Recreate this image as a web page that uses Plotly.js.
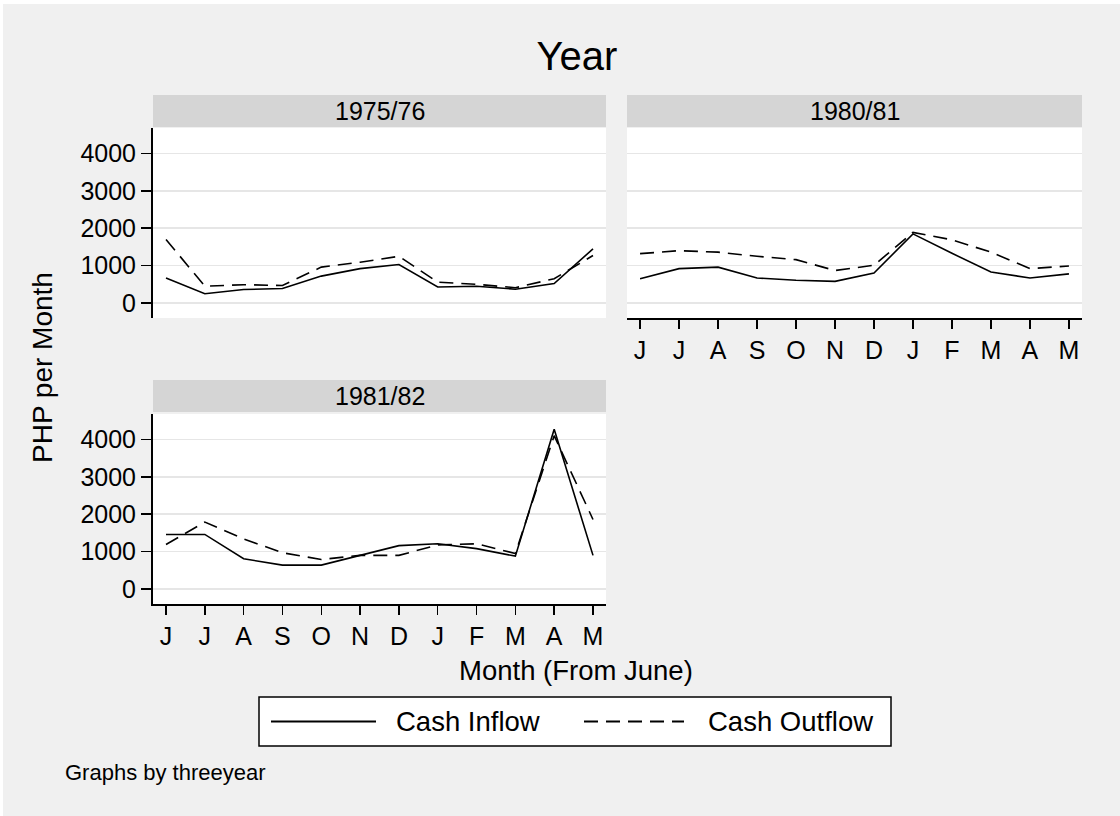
<!DOCTYPE html>
<html>
<head>
<meta charset="utf-8">
<script src="https://cdn.plot.ly/plotly-3.0.1.min.js"></script>
<style>
html, body { margin: 0; padding: 0; background: #f0f0f0; }
#chart { width: 1120px; height: 816px; }
</style>
</head>
<body>
<div id="chart"></div>
<script>
// ---- data ----
const monthIndex = [0, 1, 2, 3, 4, 5, 6, 7, 8, 9, 10, 11];
const monthLabels = ['J', 'J', 'A', 'S', 'O', 'N', 'D', 'J', 'F', 'M', 'A', 'M'];
const yTicks = [0, 1000, 2000, 3000, 4000];
const panelNames = ['1975/76', '1980/81', '1981/82'];
const seriesNames = ['Cash Inflow', 'Cash Outflow'];

const inflow7576  = [670, 250, 360, 390, 720, 920, 1030, 430, 450, 370, 520, 1450];
const outflow7576 = [1700, 450, 490, 470, 960, 1090, 1250, 560, 500, 410, 650, 1270];
const inflow8081  = [650, 920, 960, 670, 610, 580, 800, 1850, 1330, 830, 670, 780];
const outflow8081 = [1320, 1400, 1360, 1250, 1160, 870, 1010, 1890, 1690, 1360, 920, 990];
const inflow8182  = [1460, 1460, 810, 640, 640, 900, 1160, 1210, 1080, 880, 4270, 900];
const outflow8182 = [1190, 1790, 1340, 970, 790, 900, 900, 1180, 1210, 950, 4100, 1860];

// ---- helpers ----
const W = 1120, H = 816;
const px = v => v / W;
const py = v => 1 - v / H;
const FONT = 'Liberation Sans, Arial, Helvetica, sans-serif';
const DASH = '14px,8px';

function line(x, y, name, dashed, xa, ya) {
  return {
    type: 'scatter', mode: 'lines', x: x, y: y, name: name,
    xaxis: xa, yaxis: ya, showlegend: false,
    line: { color: '#000000', width: 1.6, dash: dashed ? DASH : 'solid' },
    hoverinfo: 'x+y+name'
  };
}

const data = [
  line(monthIndex, inflow7576, seriesNames[0], false, 'x', 'y'),
  line(monthIndex, outflow7576, seriesNames[1], true, 'x', 'y'),
  line(monthIndex, inflow8081, seriesNames[0], false, 'x2', 'y2'),
  line(monthIndex, outflow8081, seriesNames[1], true, 'x2', 'y2'),
  line(monthIndex, inflow8182, seriesNames[0], false, 'x3', 'y3'),
  line(monthIndex, outflow8182, seriesNames[1], true, 'x3', 'y3')
];

const XR = [-0.335, 11.335];
const YR = [-400, 4680];

function xAxis(domain, anchor, show) {
  return {
    domain: domain, anchor: anchor, range: XR, fixedrange: true,
    showgrid: false, zeroline: false,
    showline: show, linecolor: '#000', linewidth: 2,
    ticks: show ? 'outside' : '', ticklen: 9, tickwidth: 1.5, tickcolor: '#000',
    tickmode: 'array', tickvals: monthIndex, ticktext: monthLabels,
    showticklabels: show,
    tickfont: { family: FONT, size: 25, color: '#000' }
  };
}
function yAxis(domain, anchor, show) {
  return {
    domain: domain, anchor: anchor, range: YR, fixedrange: true,
    showgrid: true, gridcolor: '#e6e6e6', gridwidth: 1.5, zeroline: false,
    showline: show, linecolor: '#000', linewidth: 2,
    ticks: show ? 'outside' : '', ticklen: 10, tickwidth: 1.5, tickcolor: '#000',
    tickmode: 'array', tickvals: yTicks,
    showticklabels: show,
    tickfont: { family: FONT, size: 25, color: '#000' }
  };
}

const p1x = [px(153), px(606)], p2x = [px(627), px(1082)], p3x = [px(153), px(606)];
const rowTop = [py(318), py(128)], rowBot = [py(604), py(414)];

const strips = [
  { x0: 153, x1: 606, y0: 95, y1: 127, t: panelNames[0] },
  { x0: 627, x1: 1082, y0: 95, y1: 127, t: panelNames[1] },
  { x0: 153, x1: 606, y0: 380, y1: 412, t: panelNames[2] }
];

const shapes = [
  // thin white frame at top/left edges
  { type: 'rect', xref: 'paper', yref: 'paper', x0: 0, x1: 1, y0: py(4), y1: 1, fillcolor: '#ffffff', line: { width: 0 }, layer: 'below' },
  { type: 'rect', xref: 'paper', yref: 'paper', x0: 0, x1: px(3), y0: 0, y1: 1, fillcolor: '#ffffff', line: { width: 0 }, layer: 'below' },
  // legend box
  { type: 'rect', xref: 'paper', yref: 'paper', x0: px(259), x1: px(891), y0: py(746), y1: py(697), fillcolor: '#ffffff', line: { color: '#000', width: 1.5 }, layer: 'below' },
  { type: 'line', xref: 'paper', yref: 'paper', x0: px(271), x1: px(376), y0: py(721.5), y1: py(721.5), line: { color: '#000', width: 2 } },
  { type: 'line', xref: 'paper', yref: 'paper', x0: px(584), x1: px(684), y0: py(721.5), y1: py(721.5), line: { color: '#000', width: 2, dash: DASH } }
];
const annotations = [];
strips.forEach(s => {
  shapes.push({ type: 'rect', xref: 'paper', yref: 'paper', x0: px(s.x0), x1: px(s.x1), y0: py(s.y1), y1: py(s.y0), fillcolor: '#d5d5d5', line: { width: 0 }, layer: 'below' });
  annotations.push({ xref: 'paper', yref: 'paper', x: px((s.x0 + s.x1) / 2), y: py((s.y0 + s.y1) / 2), xanchor: 'center', yanchor: 'middle', text: s.t, showarrow: false, font: { family: FONT, size: 25, color: '#000' } });
});
annotations.push(
  { xref: 'paper', yref: 'paper', x: px(43), y: py(368), xanchor: 'center', yanchor: 'middle', textangle: -90, text: 'PHP per Month', showarrow: false, font: { family: FONT, size: 28, color: '#000' } },
  { xref: 'paper', yref: 'paper', x: px(576), y: py(670), xanchor: 'center', yanchor: 'middle', text: 'Month (From June)', showarrow: false, font: { family: FONT, size: 27.5, color: '#000' } },
  { xref: 'paper', yref: 'paper', x: px(394), y: py(721), xanchor: 'left', yanchor: 'middle', text: seriesNames[0], showarrow: false, font: { family: FONT, size: 27.5, color: '#000' } },
  { xref: 'paper', yref: 'paper', x: px(706), y: py(721), xanchor: 'left', yanchor: 'middle', text: seriesNames[1], showarrow: false, font: { family: FONT, size: 27.5, color: '#000' } },
  { xref: 'paper', yref: 'paper', x: px(63), y: py(772), xanchor: 'left', yanchor: 'middle', text: 'Graphs by threeyear', showarrow: false, font: { family: FONT, size: 22, color: '#000' } }
);

const layout = {
  width: W, height: H,
  margin: { l: 0, r: 0, t: 0, b: 0, pad: 0 },
  paper_bgcolor: '#f0f0f0', plot_bgcolor: '#ffffff',
  showlegend: false,
  title: { text: 'Year', x: px(577), xanchor: 'center', y: py(56), yanchor: 'middle', xref: 'paper', yref: 'paper', font: { family: FONT, size: 40, color: '#000' } },
  xaxis: xAxis(p1x, 'y', false),
  yaxis: yAxis(rowTop, 'x', true),
  xaxis2: xAxis(p2x, 'y2', true),
  yaxis2: yAxis(rowTop, 'x2', false),
  xaxis3: xAxis(p3x, 'y3', true),
  yaxis3: yAxis(rowBot, 'x3', true),
  shapes: shapes,
  annotations: annotations
};

Plotly.newPlot('chart', data, layout, { displayModeBar: false, staticPlot: true });
</script>
</body>
</html>
